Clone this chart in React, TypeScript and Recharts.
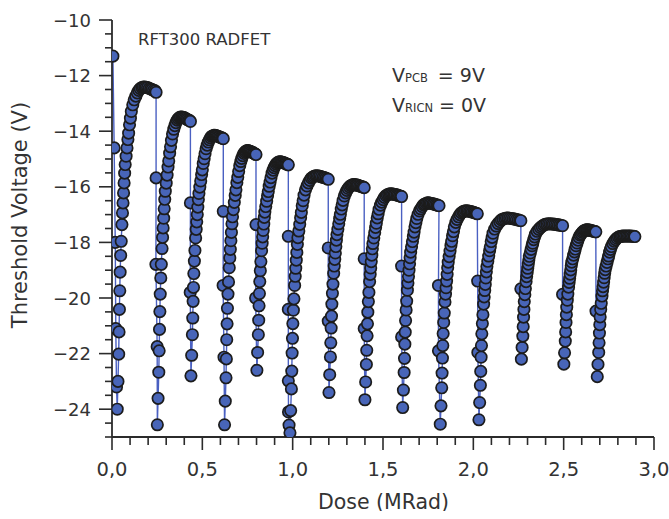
import React from 'react'
import { LineChart, Line, XAxis, YAxis } from 'recharts'

// [dose (MRad), threshold voltage (V)], one array per irradiation cycle
const cycle01: [number, number][] = [
    [0.005, -11.3], [0.012, -14.6], [0.018, -18.0], [0.021, -21.1], [0.025, -23.2],
    [0.029, -24.0], [0.033, -23.0], [0.037, -22.02], [0.039, -21.22], [0.041, -20.41], [0.043, -19.74],
    [0.045, -19.07], [0.048, -18.47], [0.051, -17.96], [0.055, -17.36], [0.058, -16.94], [0.061, -16.58],
    [0.064, -16.22], [0.067, -15.86], [0.070, -15.51], [0.073, -15.2], [0.078, -14.9], [0.083, -14.6],
    [0.088, -14.3], [0.092, -14.07], [0.097, -13.77], [0.102, -13.53], [0.107, -13.29],
    [0.115, -13.05], [0.123, -12.87], [0.132, -12.74], [0.140, -12.62], [0.148, -12.53], [0.156, -12.47],
    [0.165, -12.43], [0.173, -12.41], [0.181, -12.41], [0.189, -12.42], [0.197, -12.43], [0.206, -12.46],
    [0.214, -12.48], [0.222, -12.5], [0.230, -12.53], [0.239, -12.55], [0.244, -12.6]
]
const cycle02: [number, number][] = [
    [0.244, -15.68], [0.243, -18.79], [0.250, -21.75],
    [0.251, -24.56], [0.255, -23.61], [0.259, -22.67], [0.261, -21.9], [0.263, -21.13], [0.265, -20.49],
    [0.267, -19.86], [0.270, -19.28], [0.273, -18.79], [0.277, -18.22], [0.280, -17.82], [0.283, -17.48],
    [0.286, -17.13], [0.289, -16.79], [0.292, -16.45], [0.295, -16.16], [0.300, -15.87], [0.305, -15.58],
    [0.310, -15.29], [0.314, -15.07], [0.319, -14.79], [0.324, -14.56], [0.329, -14.33],
    [0.335, -14.1], [0.342, -13.93], [0.348, -13.8], [0.354, -13.69], [0.361, -13.6], [0.367, -13.55],
    [0.373, -13.51], [0.379, -13.49], [0.386, -13.49], [0.392, -13.5], [0.398, -13.51], [0.405, -13.53],
    [0.411, -13.56], [0.417, -13.58], [0.424, -13.6], [0.430, -13.62], [0.434, -13.65]
]
const cycle03: [number, number][] = [
    [0.434, -16.58], [0.433, -19.8],
    [0.437, -22.8], [0.441, -22.06], [0.445, -21.32], [0.447, -20.72], [0.449, -20.12], [0.451, -19.62],
    [0.453, -19.12], [0.456, -18.67], [0.459, -18.29], [0.463, -17.84], [0.466, -17.53], [0.469, -17.26],
    [0.472, -17.0], [0.475, -16.73], [0.478, -16.46], [0.481, -16.24], [0.486, -16.01], [0.491, -15.79],
    [0.496, -15.56], [0.500, -15.39], [0.505, -15.16], [0.510, -14.99], [0.515, -14.81],
    [0.521, -14.63], [0.527, -14.5], [0.533, -14.39], [0.539, -14.31], [0.545, -14.24], [0.551, -14.19],
    [0.557, -14.17], [0.563, -14.15], [0.570, -14.15], [0.576, -14.16], [0.582, -14.17], [0.588, -14.19],
    [0.594, -14.2], [0.600, -14.22], [0.606, -14.24], [0.612, -14.25], [0.616, -14.27]
]
const cycle04: [number, number][] = [
    [0.616, -16.88], [0.615, -19.55], [0.620, -22.13],
    [0.623, -24.56], [0.627, -23.71], [0.631, -22.87], [0.633, -22.19], [0.635, -21.5], [0.637, -20.93],
    [0.639, -20.37], [0.642, -19.86], [0.645, -19.42], [0.649, -18.91], [0.652, -18.56], [0.655, -18.25],
    [0.658, -17.94], [0.661, -17.64], [0.664, -17.33], [0.667, -17.08], [0.672, -16.82], [0.677, -16.56],
    [0.682, -16.31], [0.686, -16.11], [0.691, -15.85], [0.696, -15.66], [0.701, -15.45],
    [0.707, -15.24], [0.713, -15.09], [0.718, -14.98], [0.724, -14.88], [0.730, -14.8], [0.736, -14.75],
    [0.741, -14.72], [0.747, -14.7], [0.753, -14.7], [0.759, -14.71], [0.764, -14.72], [0.770, -14.74],
    [0.776, -14.76], [0.782, -14.78], [0.787, -14.8], [0.793, -14.82], [0.797, -14.84]
]
const cycle05: [number, number][] = [
    [0.797, -17.36], [0.795, -20.0],
    [0.802, -22.6], [0.806, -21.96], [0.810, -21.32], [0.812, -20.8], [0.814, -20.28], [0.816, -19.84],
    [0.818, -19.41], [0.821, -19.02], [0.824, -18.69], [0.828, -18.3], [0.831, -18.03], [0.834, -17.8],
    [0.837, -17.57], [0.840, -17.34], [0.843, -17.1], [0.846, -16.91], [0.851, -16.71], [0.856, -16.52],
    [0.861, -16.32], [0.865, -16.17], [0.870, -15.98], [0.875, -15.83], [0.880, -15.67],
    [0.886, -15.51], [0.892, -15.4], [0.897, -15.31], [0.903, -15.24], [0.909, -15.18], [0.915, -15.14],
    [0.920, -15.12], [0.926, -15.1], [0.932, -15.1], [0.938, -15.11], [0.943, -15.12], [0.949, -15.13],
    [0.955, -15.15], [0.961, -15.16], [0.966, -15.18], [0.972, -15.19], [0.976, -15.21]
]
const cycle06: [number, number][] = [
    [0.976, -17.78], [0.976, -20.41], [0.976, -22.98], [0.977, -24.1], [0.980, -24.57],
    [0.985, -24.85], [0.989, -24.05], [0.993, -23.27], [0.995, -22.63], [0.997, -21.98], [0.999, -21.45],
    [1.001, -20.92], [1.004, -20.44], [1.007, -20.03], [1.011, -19.55], [1.014, -19.22], [1.017, -18.93],
    [1.020, -18.64], [1.023, -18.36], [1.026, -18.07], [1.029, -17.83], [1.034, -17.59], [1.039, -17.35],
    [1.044, -17.11], [1.048, -16.92], [1.053, -16.68], [1.058, -16.5], [1.063, -16.3],
    [1.071, -16.11], [1.079, -15.97], [1.087, -15.86], [1.095, -15.77], [1.103, -15.69], [1.111, -15.65],
    [1.119, -15.62], [1.127, -15.6], [1.135, -15.6], [1.143, -15.61], [1.151, -15.62], [1.159, -15.64],
    [1.168, -15.66], [1.176, -15.67], [1.184, -15.69], [1.192, -15.71], [1.197, -15.73]
]
const cycle07: [number, number][] = [
    [1.197, -18.2], [1.197, -20.83],
    [1.201, -23.4], [1.205, -22.76], [1.209, -22.12], [1.211, -21.61], [1.213, -21.08], [1.215, -20.65],
    [1.217, -20.22], [1.220, -19.83], [1.223, -19.5], [1.227, -19.11], [1.230, -18.85], [1.233, -18.61],
    [1.236, -18.38], [1.239, -18.15], [1.242, -17.92], [1.245, -17.72], [1.250, -17.53], [1.255, -17.33],
    [1.260, -17.14], [1.264, -16.99], [1.269, -16.8], [1.274, -16.65], [1.279, -16.49],
    [1.286, -16.33], [1.293, -16.22], [1.300, -16.13], [1.307, -16.06], [1.314, -16.0], [1.321, -15.96],
    [1.328, -15.94], [1.335, -15.92], [1.342, -15.92], [1.349, -15.93], [1.356, -15.94], [1.363, -15.95],
    [1.370, -15.97], [1.377, -15.98], [1.384, -16.0], [1.391, -16.01], [1.396, -16.03]
]
const cycle08: [number, number][] = [
    [1.396, -18.59], [1.396, -21.1],
    [1.400, -23.66], [1.404, -23.02], [1.408, -22.39], [1.410, -21.88], [1.412, -21.36], [1.414, -20.93],
    [1.416, -20.51], [1.419, -20.13], [1.422, -19.8], [1.426, -19.41], [1.429, -19.15], [1.432, -18.92],
    [1.435, -18.69], [1.438, -18.46], [1.441, -18.23], [1.444, -18.04], [1.449, -17.84], [1.454, -17.65],
    [1.459, -17.46], [1.463, -17.31], [1.468, -17.12], [1.473, -16.97], [1.478, -16.81],
    [1.486, -16.66], [1.493, -16.55], [1.501, -16.46], [1.508, -16.38], [1.516, -16.32], [1.523, -16.29],
    [1.531, -16.27], [1.538, -16.25], [1.546, -16.25], [1.553, -16.26], [1.561, -16.27], [1.568, -16.28],
    [1.576, -16.29], [1.583, -16.31], [1.591, -16.32], [1.598, -16.34], [1.603, -16.35]
]
const cycle09: [number, number][] = [
    [1.603, -18.85], [1.603, -21.4],
    [1.609, -23.94], [1.613, -23.31], [1.617, -22.68], [1.619, -22.17], [1.621, -21.66], [1.623, -21.23],
    [1.625, -20.81], [1.628, -20.43], [1.631, -20.11], [1.635, -19.72], [1.638, -19.46], [1.641, -19.23],
    [1.644, -19.0], [1.647, -18.77], [1.650, -18.55], [1.653, -18.35], [1.658, -18.16], [1.663, -17.97],
    [1.668, -17.78], [1.672, -17.63], [1.677, -17.44], [1.682, -17.29], [1.687, -17.14],
    [1.694, -16.99], [1.702, -16.87], [1.709, -16.79], [1.717, -16.71], [1.724, -16.65], [1.731, -16.62],
    [1.739, -16.6], [1.746, -16.58], [1.753, -16.58], [1.761, -16.59], [1.768, -16.6], [1.776, -16.61],
    [1.783, -16.62], [1.790, -16.64], [1.798, -16.65], [1.805, -16.67], [1.810, -16.68]
]
const cycle10: [number, number][] = [
    [1.807, -19.55], [1.807, -21.9],
    [1.817, -24.54], [1.821, -23.88], [1.825, -23.23], [1.827, -22.7], [1.829, -22.16], [1.831, -21.71],
    [1.833, -21.28], [1.836, -20.88], [1.839, -20.54], [1.843, -20.14], [1.846, -19.86], [1.849, -19.63],
    [1.852, -19.39], [1.855, -19.15], [1.858, -18.91], [1.861, -18.71], [1.866, -18.51], [1.871, -18.31],
    [1.876, -18.11], [1.880, -17.96], [1.885, -17.76], [1.890, -17.61], [1.895, -17.44],
    [1.903, -17.28], [1.910, -17.17], [1.918, -17.08], [1.925, -17.0], [1.933, -16.94], [1.941, -16.9],
    [1.948, -16.88], [1.956, -16.86], [1.964, -16.86], [1.971, -16.87], [1.979, -16.88], [1.986, -16.89],
    [1.994, -16.91], [2.002, -16.92], [2.009, -16.94], [2.017, -16.95], [2.022, -16.97]
]
const cycle11: [number, number][] = [
    [2.024, -19.39], [2.025, -21.96],
    [2.031, -24.38], [2.035, -23.76], [2.039, -23.14], [2.041, -22.64], [2.043, -22.13], [2.045, -21.71],
    [2.047, -21.29], [2.050, -20.92], [2.053, -20.6], [2.057, -20.22], [2.060, -19.96], [2.063, -19.73],
    [2.066, -19.51], [2.069, -19.28], [2.072, -19.06], [2.075, -18.87], [2.080, -18.68], [2.085, -18.49],
    [2.090, -18.3], [2.094, -18.16], [2.099, -17.97], [2.104, -17.82], [2.109, -17.67],
    [2.118, -17.52], [2.127, -17.41], [2.137, -17.32], [2.146, -17.25], [2.155, -17.19], [2.164, -17.16],
    [2.174, -17.14], [2.183, -17.12], [2.192, -17.12], [2.201, -17.13], [2.211, -17.14], [2.220, -17.15],
    [2.229, -17.16], [2.238, -17.18], [2.248, -17.19], [2.257, -17.21], [2.263, -17.22]
]
const cycle12: [number, number][] = [
    [2.263, -19.67],
    [2.266, -22.2], [2.270, -21.78], [2.274, -21.37], [2.276, -21.03], [2.278, -20.69], [2.280, -20.41],
    [2.282, -20.13], [2.285, -19.88], [2.288, -19.66], [2.292, -19.41], [2.295, -19.23], [2.298, -19.08],
    [2.301, -18.93], [2.304, -18.78], [2.307, -18.63], [2.310, -18.5], [2.315, -18.38], [2.320, -18.25],
    [2.325, -18.12], [2.329, -18.03], [2.334, -17.9], [2.339, -17.8], [2.344, -17.7],
    [2.353, -17.6], [2.362, -17.53], [2.371, -17.47], [2.380, -17.42], [2.389, -17.38], [2.398, -17.35],
    [2.407, -17.34], [2.416, -17.33], [2.425, -17.33], [2.434, -17.34], [2.443, -17.34], [2.452, -17.35],
    [2.461, -17.36], [2.470, -17.37], [2.479, -17.38], [2.488, -17.39], [2.494, -17.4]
]
const cycle13: [number, number][] = [
    [2.494, -19.87],
    [2.501, -22.38], [2.505, -21.97], [2.509, -21.55], [2.511, -21.22], [2.513, -20.88], [2.515, -20.6],
    [2.517, -20.33], [2.520, -20.08], [2.523, -19.86], [2.527, -19.61], [2.530, -19.44], [2.533, -19.29],
    [2.536, -19.14], [2.539, -18.99], [2.542, -18.84], [2.545, -18.71], [2.550, -18.59], [2.555, -18.46],
    [2.560, -18.34], [2.564, -18.24], [2.569, -18.12], [2.574, -18.02], [2.579, -17.92],
    [2.585, -17.82], [2.591, -17.74], [2.597, -17.69], [2.603, -17.64], [2.609, -17.6], [2.615, -17.57],
    [2.621, -17.56], [2.627, -17.55], [2.632, -17.55], [2.638, -17.56], [2.644, -17.56], [2.650, -17.57],
    [2.656, -17.58], [2.662, -17.59], [2.668, -17.6], [2.674, -17.61], [2.678, -17.62]
]
const cycle14: [number, number][] = [
    [2.679, -20.47],
    [2.686, -22.83], [2.690, -22.39], [2.694, -21.96], [2.696, -21.61], [2.698, -21.26], [2.700, -20.96],
    [2.702, -20.68], [2.705, -20.41], [2.708, -20.19], [2.712, -19.93], [2.715, -19.74], [2.718, -19.59],
    [2.721, -19.43], [2.724, -19.27], [2.727, -19.11], [2.730, -18.98], [2.735, -18.85], [2.740, -18.72],
    [2.745, -18.59], [2.749, -18.49], [2.754, -18.35], [2.759, -18.25], [2.764, -18.15],
    [2.772, -18.04], [2.780, -17.96], [2.787, -17.9], [2.795, -17.85], [2.803, -17.81], [2.811, -17.79],
    [2.819, -17.78], [2.826, -17.77], [2.834, -17.77], [2.842, -17.77], [2.850, -17.77], [2.858, -17.77],
    [2.865, -17.77], [2.873, -17.77], [2.881, -17.78], [2.889, -17.78], [2.894, -17.79]
]

const xTicks = [0, 0.1, 0.2, 0.3, 0.4, 0.5, 0.6, 0.7, 0.8, 0.9, 1.0, 1.1, 1.2, 1.3, 1.4, 1.5, 1.6, 1.7, 1.8, 1.9,
    2.0, 2.1, 2.2, 2.3, 2.4, 2.5, 2.6, 2.7, 2.8, 2.9, 3.0]
const yTicks = [-25, -24.5, -24, -23.5, -23, -22.5, -22, -21.5, -21, -20.5, -20, -19.5, -19, -18.5, -18, -17.5,
    -17, -16.5, -16, -15.5, -15, -14.5, -14, -13.5, -13, -12.5, -12, -11.5, -11, -10.5, -10]

const cycles = [cycle01, cycle02, cycle03, cycle04, cycle05, cycle06, cycle07,
    cycle08, cycle09, cycle10, cycle11, cycle12, cycle13, cycle14]
const points = cycles.flat().map(([dose, volts]) => ({ dose, volts }))

const FONT = '"DejaVu Sans", sans-serif'
const INK = '#2b2b2b'
const TEXT = '#333333'

const XTick = (props: any) => {
    const { x, y, payload } = props
    const v = payload.value
    const major = Math.abs(v * 2 - Math.round(v * 2)) < 1e-6
    return (
        <g>
            <line x1={x} y1={y} x2={x} y2={y + (major ? 13 : 8)} stroke={INK} strokeWidth={1.6} />
            {major && (
                <text x={x} y={y + 39} textAnchor="middle" fontSize={19.5} fontFamily={FONT} fill={TEXT}>
                    {v.toFixed(1).replace('.', ',')}
                </text>
            )}
        </g>
    )
}

const YTick = (props: any) => {
    const { x, y, payload } = props
    const v = payload.value
    const major = Number.isInteger(v) && v % 2 === 0
    return (
        <g>
            <line x1={x} y1={y} x2={x - (major ? 13 : 7)} y2={y} stroke={INK} strokeWidth={1.6} />
            {major && (
                <text x={x - 21} y={y + 6.5} textAnchor="end" fontSize={18} fontFamily={FONT} fill={TEXT}>
                    {String(v).replace('-', '\u2212')}
                </text>
            )}
        </g>
    )
}

const renderDot = (p: any) => (
    <circle key={`dot-${p.index}`} cx={p.cx} cy={p.cy} r={5.7} fill="#4865b8" stroke="#1c1c1c" strokeWidth={1.7} />
)

const App = () => {
    return (
        <div style={{ padding: '8px 0 0 8px', width: 669, boxSizing: 'border-box' }}>
            <style>{'body { margin: 0; } .recharts-wrapper, .recharts-surface { overflow: visible !important; }'}</style>
            <div style={{ position: 'relative', width: 661, height: 503 }}>
                <LineChart
                    width={661}
                    height={503}
                    data={points}
                    margin={{ top: 12, right: 15, bottom: 34, left: 44 }}
                >
                    <XAxis
                        dataKey="dose"
                        type="number"
                        domain={[0, 3]}
                        ticks={xTicks}
                        interval={0}
                        allowDataOverflow
                        height={40}
                        tickSize={0}
                        tickMargin={0}
                        tickLine={false}
                        tick={<XTick />}
                        axisLine={{ stroke: INK, strokeWidth: 1.8 }}
                    />
                    <YAxis
                        type="number"
                        domain={[-25, -10]}
                        ticks={yTicks}
                        interval={0}
                        allowDataOverflow
                        width={60}
                        tickSize={0}
                        tickMargin={0}
                        tickLine={false}
                        tick={<YTick />}
                        axisLine={{ stroke: INK, strokeWidth: 1.8 }}
                    />
                    <Line
                        dataKey="volts"
                        type="linear"
                        stroke="#4a60c2"
                        strokeWidth={1.4}
                        dot={renderDot}
                        activeDot={false}
                        isAnimationActive={false}
                    />
                </LineChart>
                <svg
                    width={661}
                    height={511}
                    style={{ position: 'absolute', left: 0, top: 0, pointerEvents: 'none', overflow: 'visible' }}
                >
                    <g fontFamily={FONT} fill={TEXT}>
                        <text x={130} y={37} fontSize={16.5}>RFT300 RADFET</text>
                        <text x={384} y={74} fontSize={19}>
                            V<tspan fontSize={11.5}>PCB</tspan><tspan dx={10}>= 9V</tspan>
                        </text>
                        <text x={384} y={104} fontSize={19}>
                            V<tspan fontSize={11.5}>RICN</tspan><tspan dx={6}>= 0V</tspan>
                        </text>
                        <text x={375.5} y={501} fontSize={20.5} textAnchor="middle">Dose (MRad)</text>
                        <text transform="translate(19, 207) rotate(-90)" fontSize={21} textAnchor="middle">
                            Threshold Voltage (V)
                        </text>
                    </g>
                </svg>
            </div>
        </div>
    )
}

export default App
